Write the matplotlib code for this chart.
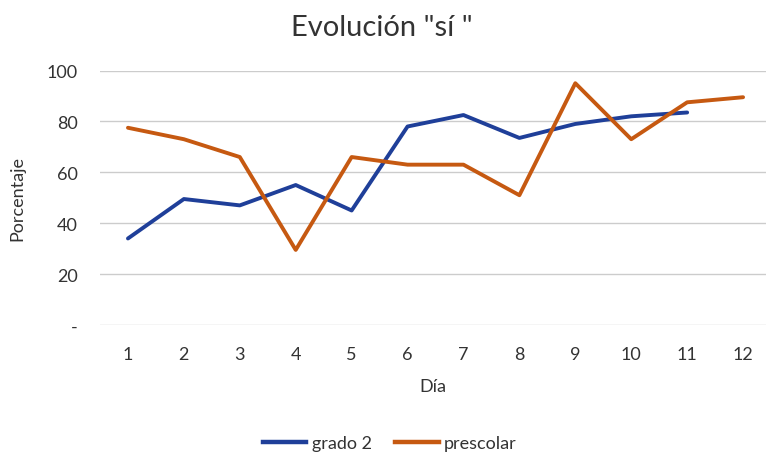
import matplotlib
matplotlib.use("Agg")
import matplotlib.pyplot as plt
from matplotlib.lines import Line2D

dias = [1, 2, 3, 4, 5, 6, 7, 8, 9, 10, 11, 12]
grado2 = [34, 49.5, 47, 55, 45, 78, 82.5, 73.5, 79, 82, 83.5, None]
prescolar = [77.5, 73, 66, 29.5, 66, 63, 63, 51, 95, 73, 87.5, 89.5]
yticks = [0, 20, 40, 60, 80, 100]
ytick_labels = ["-", "20", "40", "60", "80", "100"]

plt.rcParams['font.family'] = ['Lato', 'DejaVu Sans']
W, H = 766, 456
fig = plt.figure(figsize=(W / 100, H / 100), dpi=100)
ax = fig.add_axes([100 / W, 130 / H, 666 / W, 254.5 / H])

blue = '#1F3F99'
orange = '#C65911'
g_x = [d for d, v in zip(dias, grado2) if v is not None]
g_y = [v for v in grado2 if v is not None]
ax.plot(g_x, g_y, color=blue, lw=2.8, solid_capstyle='round', zorder=3)
ax.plot(dias, prescolar, color=orange, lw=2.8, solid_capstyle='round', zorder=3)

ax.set_xlim(0.5, 12.41)
ax.set_ylim(0, 100)
ax.set_yticks(yticks)
ax.set_yticklabels(ytick_labels)
ax.set_xticks(dias)
ax.set_xticklabels([str(d) for d in dias])
ax.grid(axis='y', color='#cccccc', lw=1.0)
ax.set_axisbelow(True)
for s in ax.spines.values():
    s.set_visible(False)
ax.tick_params(axis='both', length=0, labelsize=13, colors='#333333')
ax.tick_params(axis='y', pad=16)
ax.tick_params(axis='x', pad=15)

ax.set_ylabel("Porcentaje", fontsize=13, color='#333333', labelpad=15)
ax.set_xlabel("Día", fontsize=13, color='#333333', labelpad=12)
fig.text(382 / W, 1 - 28 / H, 'Evolución "sí "', fontsize=21, color='#333333',
         ha='center', va='center')

handles = [Line2D([], [], color=blue, lw=3.2), Line2D([], [], color=orange, lw=3.2)]
fig.legend(handles, ["grado 2", "prescolar"], loc='center', bbox_to_anchor=(390 / W, 1 - 444 / H),
           ncol=2, frameon=False, fontsize=13, handlelength=2.4, handletextpad=0.3,
           columnspacing=1.3, labelcolor='#333333')

fig.savefig("out.png", dpi=100)
